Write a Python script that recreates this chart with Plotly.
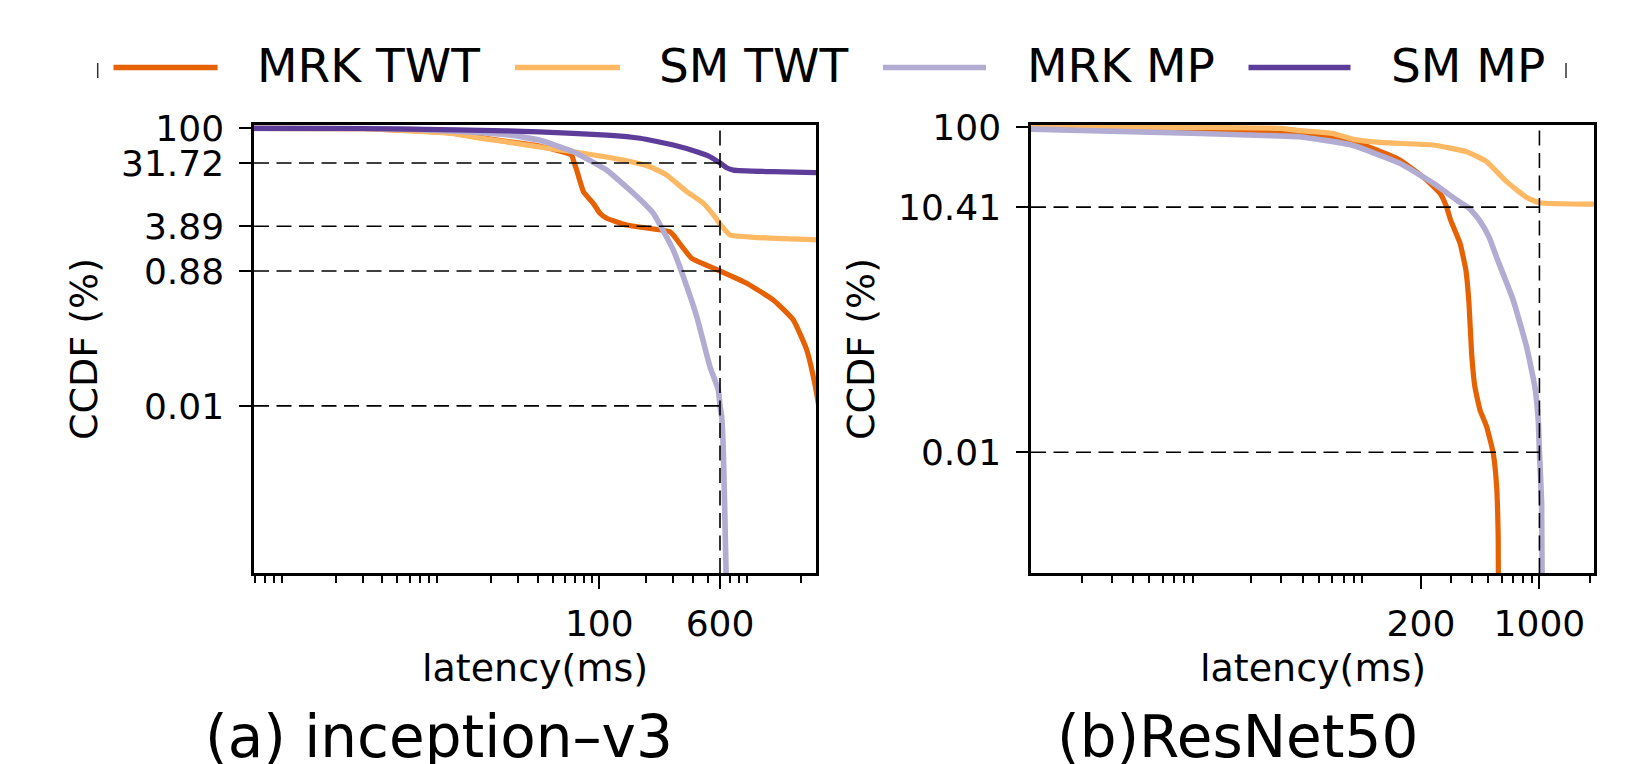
import plotly.graph_objects as go

# ---------------- data ----------------
series_names = ["MRK TWT", "SM TWT", "MRK MP", "SM MP"]
series_colors = ["#e66101", "#fdb863", "#b2abd2", "#5e3c99"]

# (a) inception-v3 : latency (ms) vs CCDF (%)
a_mrk_twt_x = [0.5, 3, 6, 10.9, 15.8, 25, 41, 66.4, 68, 71.5, 79, 91.5, 101, 111.6, 150, 286, 300, 394, 600, 891, 1324, 1782, 2175, 2460, 2700]
a_mrk_twt_y = [100, 99, 93, 86, 76, 65, 55.6, 41.2, 35, 25, 12.2, 8.3, 5.96, 5.05, 4.04, 3.24, 2.9, 1.34, 0.88, 0.585, 0.336, 0.173, 0.064, 0.02, 0.006]
a_sm_twt_x = [0.5, 3, 6, 10.9, 15.8, 25, 41, 68, 143, 212, 272, 367, 469, 557, 616, 696, 984, 2700]
a_sm_twt_y = [100, 99, 92, 85, 74, 64, 54, 46, 34.9, 28, 21.2, 12.2, 8.3, 5.3, 3.89, 2.9, 2.69, 2.45]
a_mrk_mp_x = [0.5, 3, 6, 12.6, 26.5, 41, 68, 111.6, 166, 223, 300, 348, 425, 517, 585, 600, 615, 630, 645, 656, 670]
a_mrk_mp_y = [100, 99.5, 97, 90, 80, 67.8, 46, 25, 11.6, 5.96, 1.76, 0.728, 0.193, 0.0367, 0.017, 0.01, 0.007, 0.0023, 0.00025, 4.3e-5, 1e-5]
a_sm_mp_x = [0.5, 3, 12, 25, 41, 112, 183, 300, 425, 517, 600, 662, 731, 1324, 2700]
a_sm_mp_y = [100, 99.5, 95, 92, 89, 80, 72, 57.5, 46, 39, 31.72, 27, 25, 23.7, 22.9]

# (b) ResNet50
b_mrk_twt_x = [1.0, 10, 30, 38.6, 76.2, 150, 216, 259, 283, 299, 340, 368, 384, 398, 416, 446, 488, 534, 559, 571, 574]
b_mrk_twt_y = [99, 93, 88, 84.3, 69.8, 39.6, 22.5, 15.4, 10.5, 7.23, 3.73, 1.75, 0.683, 0.165, 0.064, 0.0332, 0.0207, 0.0097, 0.0038, 0.00091, 0.0001]
b_sm_twt_x = [1.0, 10, 30, 38.6, 60, 80, 120, 236, 372, 488, 640, 840, 1000, 2200]
b_sm_twt_y = [100, 99.5, 97, 90.8, 84, 71, 64.6, 60.5, 50, 37.8, 21.4, 13.7, 11.8, 11.3]
b_mrk_mp_x = [1.0, 10, 30, 38.6, 78, 150, 236, 325, 389, 446, 504, 561, 700, 839, 940, 984, 1000, 1030, 1040]
b_mrk_mp_y = [95, 84, 78, 76.6, 60.5, 36, 20.5, 12.7, 9.9, 7.0, 4.47, 2.46, 0.748, 0.2, 0.064, 0.025, 0.01, 0.0024, 0.0001]

# reference (dashed) marks
a_ref_x = 600
a_ref_y = [31.72, 3.89, 0.88, 0.01]
b_ref_x = 1000
b_ref_y = [10.41, 0.01]

# axis ticks
a_xticks = [100, 600]
a_yticks = [100, 31.72, 3.89, 0.88, 0.01]
a_yticktext = ["100", "31.72", "3.89", "0.88", "0.01"]
b_xticks = [200, 1000]
b_yticks = [100, 10.41, 0.01]
b_yticktext = ["100", "10.41", "0.01"]

# axis ranges (log10 units)
a_xrange = [-0.226, 3.397]
a_yrange = [-4.408, 2.048]
b_xrange = [0.0, 3.322]
b_yrange = [-3.486, 2.028]

W, H = 1648, 764
FONT = "DejaVu Sans, Verdana, sans-serif"


def minor_ticks(xr, majors):
    lo, hi = 10 ** xr[0], 10 ** xr[1]
    vals = []
    for n in range(-2, 5):
        for k in range(2, 10):
            v = k * 10 ** n
            if lo <= v <= hi and all(abs(v - m) > 1e-9 for m in majors):
                vals.append(v)
    return vals


fig = go.Figure()

panels = [
    ("x", "y", [(a_mrk_twt_x, a_mrk_twt_y), (a_sm_twt_x, a_sm_twt_y), (a_mrk_mp_x, a_mrk_mp_y), (a_sm_mp_x, a_sm_mp_y)],
     a_ref_x, a_ref_y, a_xrange, a_yrange),
    ("x2", "y2", [(b_mrk_twt_x, b_mrk_twt_y), (b_sm_twt_x, b_sm_twt_y), (b_mrk_mp_x, b_mrk_mp_y), None],
     b_ref_x, b_ref_y, b_xrange, b_yrange),
]

for xa, ya, curves, rx, rys, xr, yr in panels:
    for i, c in enumerate(curves):
        if c is None:
            continue
        fig.add_trace(go.Scatter(
            x=c[0], y=c[1], mode="lines", name=series_names[i],
            line=dict(color=series_colors[i], width=5.6 if i == 2 else 5.2, shape="spline", smoothing=0.4),
            xaxis=xa, yaxis=ya, showlegend=False, hoverinfo="skip"))
    # dashed reference lines
    dx, dy = [], []
    x_lo = 10 ** xr[0]
    for v in rys:
        dx += [x_lo, rx, None]
        dy += [v, v, None]
    dx += [rx, rx]
    dy += [10 ** yr[0], 100]
    fig.add_trace(go.Scatter(
        x=dx, y=dy, mode="lines", line=dict(color="black", width=1.6, dash="15px,7.5px"),
        xaxis=xa, yaxis=ya, showlegend=False, hoverinfo="skip", connectgaps=False))

ydom = [1 - 573 / H, 1 - 125 / H]
axis_common = dict(type="log", showline=True, linecolor="black", linewidth=2.5, mirror=True,
                   showgrid=False, zeroline=False, ticks="outside", tickcolor="black",
                   automargin=False,
                   tickfont=dict(family=FONT, size=36, color="black"))

fig.update_layout(
    template="none",
    width=W, height=H, autosize=False,
    margin=dict(l=0, r=0, t=0, b=0, pad=0),
    paper_bgcolor="white", plot_bgcolor="white",
    font=dict(family=FONT, color="black"),
    showlegend=False,
    xaxis=dict(axis_common, domain=[254 / W, 816 / W], range=a_xrange,
               tickmode="array", tickvals=a_xticks, ticktext=[str(v) for v in a_xticks],
               ticklen=13, tickwidth=2, ticklabelstandoff=4,
               minor=dict(tickmode="array", tickvals=minor_ticks(a_xrange, a_xticks), ticks="outside",
                          ticklen=7, tickwidth=1.5, tickcolor="black", showgrid=False),
               anchor="y"),
    yaxis=dict(axis_common, domain=ydom, range=a_yrange, tickmode="array",
               tickvals=a_yticks, ticktext=a_yticktext, ticklen=12, tickwidth=2,
               ticklabelstandoff=8, anchor="x"),
    xaxis2=dict(axis_common, domain=[1031 / W, 1594 / W], range=b_xrange,
                tickmode="array", tickvals=b_xticks, ticktext=[str(v) for v in b_xticks],
                ticklen=13, tickwidth=2, ticklabelstandoff=4,
                minor=dict(tickmode="array", tickvals=minor_ticks(b_xrange, b_xticks), ticks="outside",
                           ticklen=7, tickwidth=1.5, tickcolor="black", showgrid=False),
                anchor="y2"),
    yaxis2=dict(axis_common, domain=ydom, range=b_yrange, tickmode="array",
                tickvals=b_yticks, ticktext=b_yticktext, ticklen=12, tickwidth=2,
                ticklabelstandoff=8, anchor="x2"),
)

annotations = []
# axis titles
for cx in [(254 + 816) / 2, (1031 + 1594) / 2]:
    annotations.append(dict(text="latency(ms)", x=cx / W, y=1 - 668 / H, xref="paper", yref="paper",
                            xanchor="center", yanchor="middle", showarrow=False,
                            font=dict(family=FONT, size=38, color="black")))
for cx in [84, 861]:
    annotations.append(dict(text="CCDF (%)", x=cx / W, y=1 - 349 / H, xref="paper", yref="paper",
                            xanchor="center", yanchor="middle", textangle=-90, showarrow=False,
                            font=dict(family=FONT, size=38, color="black")))
# subplot captions
for txt, cx in [("(a) inception–v3", 439), ("(b)ResNet50", 1237)]:
    annotations.append(dict(text=txt, x=cx / W, y=1 - 737 / H, xref="paper", yref="paper",
                            xanchor="center", yanchor="middle", showarrow=False,
                            font=dict(family=FONT, size=58, color="black")))

# legend (drawn manually to match the long line samples)
shapes = []
leg_line_x = [(113.5, 217.6), (515, 620), (883, 986), (1248.5, 1350.5)]
leg_text_x = [255, 657, 1025, 1389]
for i in range(4):
    x0, x1 = leg_line_x[i]
    shapes.append(dict(type="line", xref="paper", yref="paper", x0=x0 / W, x1=x1 / W,
                       y0=1 - 67.5 / H, y1=1 - 67.5 / H,
                       line=dict(color=series_colors[i], width=5.5)))
    annotations.append(dict(text=series_names[i], x=leg_text_x[i] / W, y=1 - 66 / H,
                            xref="paper", yref="paper", xanchor="left", yanchor="middle",
                            showarrow=False, font=dict(family=FONT, size=47, color="black")))
for bx in [97.7, 1566]:
    shapes.append(dict(type="line", xref="paper", yref="paper", x0=bx / W, x1=bx / W,
                       y0=1 - 63 / H, y1=1 - 78 / H, line=dict(color="#333333", width=1.5)))

fig.update_layout(annotations=annotations, shapes=shapes)

fig.write_html("out.html", config={"displayModeBar": False},
               post_script="document.body.style.margin='0px';document.body.style.overflow='hidden';")
